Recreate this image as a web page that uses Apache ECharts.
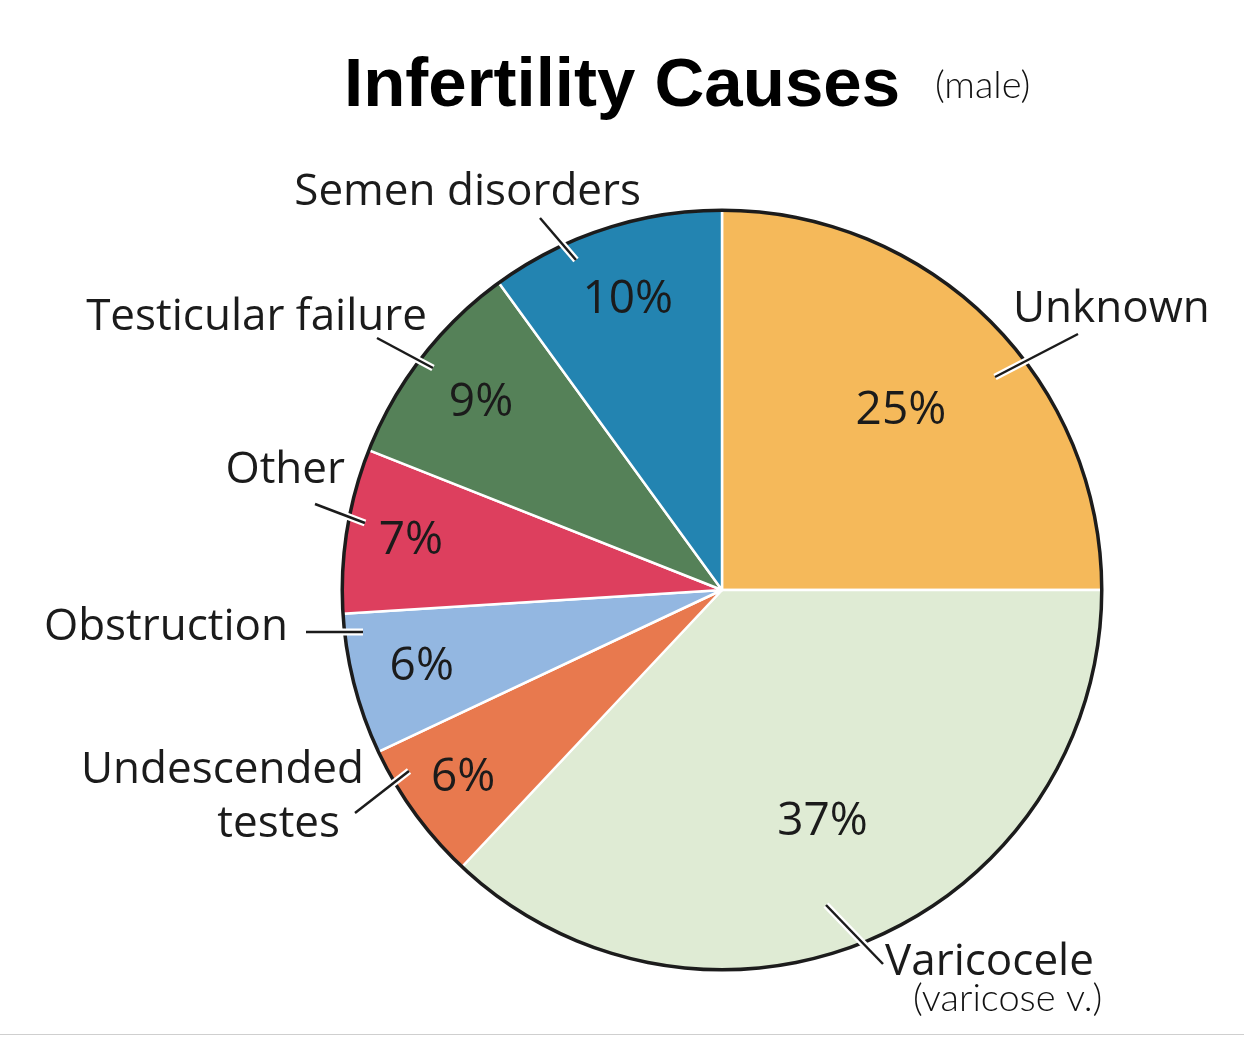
<!DOCTYPE html>
<html>
<head>
<meta charset="utf-8">
<title>Infertility Causes</title>
<script src="https://cdn.jsdelivr.net/npm/echarts@6/dist/echarts.min.js"></script>
<style>
  html, body { margin: 0; padding: 0; background: #fff; }
  #chart { width: 1244px; height: 1037px; }
</style>
</head>
<body>
<div id="chart"></div>
<script>
const causes = ['Unknown', 'Varicocele', 'Undescended testes', 'Obstruction', 'Other', 'Testicular failure', 'Semen disorders'];
const percents = [25, 37, 6, 6, 7, 9, 10];
const colors = ['#f5b95a', '#dfebd4', '#e8794e', '#93b7e1', '#dd3f5e', '#558158', '#2384b1'];

const center = [722, 590];
const radius = 380;
const textColor = '#1b1b1b';
const font = '"Open Sans", "Noto Sans", sans-serif';

// where the name callouts sit, and their leader lines (inner end -> outer end)
const callouts = [
  { x: 1013, y: 309, align: 'left', line: [[995, 377], [1078, 334]] },
  { x: 885, y: 962, align: 'left', line: [[826, 905], [883, 964]] },
  { x: 364, y: 797, align: 'right', line: [[409, 771], [355, 813]] },
  { x: 288, y: 627, align: 'right', line: [[363, 632], [306, 632]] },
  { x: 345, y: 470, align: 'right', line: [[365, 523], [315, 504]] },
  { x: 427, y: 317, align: 'right', line: [[433, 368], [377, 338]] },
  { x: 641, y: 192, align: 'right', line: [[576, 260], [540, 218]] }
];
// distance of each % label from the centre
const pctRadius = [253, 253, 320, 310, 315, 305, 305];

const total = percents.reduce((a, b) => a + b, 0);
const midAngle = (i) => {
  let before = 0;
  for (let k = 0; k < i; k++) before += percents[k];
  return (before + percents[i] / 2) / total * 2 * Math.PI;
};

const chart = echarts.init(document.getElementById('chart'));

const clearPie = {
  type: 'pie',
  center: center,
  radius: radius,
  silent: true,
  avoidLabelOverlap: false,
  startAngle: 90,
  itemStyle: { color: 'rgba(0,0,0,0)', borderWidth: 0 }
};

const nameData = causes.map((c, i) => ({ name: c, value: percents[i] }));

const nameLayout = (params) => {
  const c = callouts[params.dataIndex];
  return {
    x: c.x,
    y: c.y,
    align: c.align,
    verticalAlign: 'middle',
    labelLinePoints: c.line
  };
};

const option = {
  animation: false,
  backgroundColor: '#fff',
  title: {
    text: 'Infertility Causes',
    left: 'center',
    top: 47,
    textStyle: {
      fontFamily: '"Liberation Sans", Arial, sans-serif',
      fontSize: 69,
      fontWeight: 'bold',
      color: '#000'
    }
  },
  graphic: [
    {
      type: 'text',
      left: 935,
      top: 67,
      style: { text: '(male)', fontFamily: 'Lato, "DejaVu Sans", sans-serif', fontWeight: 300, fontSize: 38, fill: '#111' }
    },
    {
      type: 'text',
      left: 913,
      top: 980,
      style: { text: '(varicose v.)', fontFamily: 'Lato, "DejaVu Sans", sans-serif', fontWeight: 300, fontSize: 38, fill: '#111' }
    },
    {
      type: 'rect',
      left: 0,
      top: 1034,
      shape: { width: 1244, height: 1 },
      style: { fill: '#cfcfcf' }
    }
  ],
  series: [
    {
      type: 'pie',
      z: 2,
      center: center,
      radius: radius,
      startAngle: 90,
      avoidLabelOverlap: false,
      silent: true,
      data: causes.map((c, i) => ({
        name: c,
        value: percents[i],
        itemStyle: { color: colors[i] }
      })),
      itemStyle: { borderColor: '#fff', borderWidth: 2.5 },
      label: {
        show: true,
        position: 'inside',
        formatter: (p) => p.value + '%',
        fontFamily: font,
        fontSize: 46,
        color: textColor
      },
      labelLine: { show: false },
      labelLayout: (params) => {
        const a = midAngle(params.dataIndex);
        const r = pctRadius[params.dataIndex];
        return {
          x: center[0] + r * Math.sin(a),
          y: center[1] - r * Math.cos(a),
          align: 'center',
          verticalAlign: 'middle'
        };
      }
    },
    {
      // dark outline round the pie
      type: 'pie',
      z: 3,
      center: center,
      radius: [378, 381.5],
      silent: true,
      label: { show: false },
      labelLine: { show: false },
      itemStyle: { color: '#1c1c1c', borderWidth: 0 },
      data: [{ name: 'outline', value: 1 }]
    },
    Object.assign({}, clearPie, {
      // white halo under the leader lines
      z: 4,
      data: nameData,
      label: {
        show: true,
        position: 'outside',
        formatter: (p) => p.name,
        fontFamily: font,
        fontSize: 44,
        color: 'rgba(0,0,0,0)'
      },
      labelLine: { show: true, smooth: false, length: 10, length2: 10, lineStyle: { color: '#fff', width: 7 } },
      labelLayout: nameLayout
    }),
    Object.assign({}, clearPie, {
      z: 5,
      data: nameData,
      label: {
        show: true,
        position: 'outside',
        formatter: (p) => p.dataIndex === 2 ? '{a|Undescended}\n{b|testes}' : p.name,
        fontFamily: font,
        fontSize: 44,
        lineHeight: 54,
        color: textColor,
        rich: {
          a: { fontFamily: font, fontSize: 44, lineHeight: 54, color: textColor },
          b: { fontFamily: font, fontSize: 44, lineHeight: 54, color: textColor, padding: [0, 24, 0, 0] }
        }
      },
      labelLine: { show: true, smooth: false, length: 10, length2: 10, lineStyle: { color: '#1b1b1b', width: 2.5 } },
      labelLayout: nameLayout
    })
  ]
};

chart.setOption(option);
</script>
</body>
</html>
